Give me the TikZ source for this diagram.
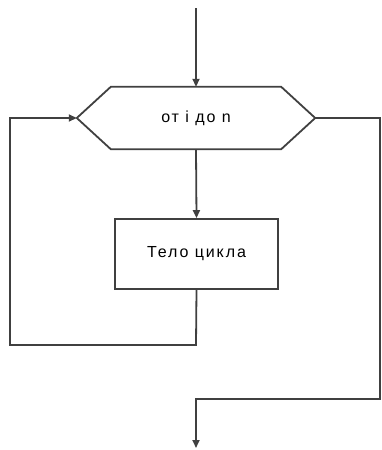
\documentclass[tikz,border=0pt]{standalone}
\usepackage{fontspec}
\setmainfont{Liberation Sans}[LetterSpace=12]
\usetikzlibrary{arrows.meta}
\begin{document}
\begin{tikzpicture}[x=1pt,y=-1pt,
	line/.style={draw=black!75, line width=1.8pt},
	arr/.style={line, -{Triangle[length=8pt,width=7pt]}},
	lbl/.style={inner sep=0pt, font=\fontsize{16}{19}\selectfont}]
	\useasboundingbox (0,0) rectangle (381,450);
		\node[lbl, minimum width=238pt, minimum height=62pt] (H) at (196,118) {от i до n};
		\node[lbl, line, minimum width=163pt, minimum height=70pt] (B) at (196.5,254) {Тело цикла};
			\coordinate (S) at (196,8);
			\coordinate (L1) at (196,345);
			\coordinate (L2) at (10,345);
			\coordinate (L3) at (10,118);
			\coordinate (R1) at (380,118);
			\coordinate (R2) at (380,399);
			\coordinate (R3) at (196,399);
			\coordinate (E) at (196,448);
		\draw[line, line join=miter] (H.west) -- ([xshift=34pt]H.north west) -- ([xshift=-34pt]H.north east) -- (H.east) -- ([xshift=-34pt]H.south east) -- ([xshift=34pt]H.south west) -- cycle;
		\draw[arr] (S) -- (H.north);
		\draw[arr] (H.south) -- (B.north);
		\draw[arr] (B.south) -- (L1) -- (L2) -- (L3) -- (H.west);
		\draw[arr] (H.east) -- (R1) -- (R2) -- (R3) -- (E);
\end{tikzpicture}
\end{document}
